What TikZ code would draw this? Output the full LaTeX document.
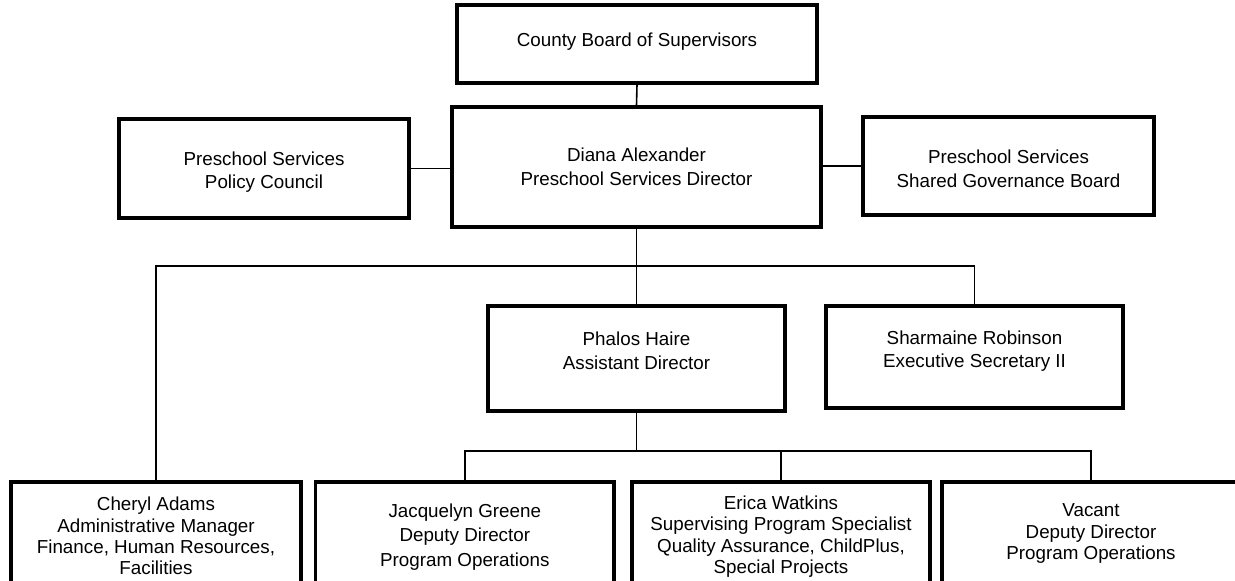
\documentclass[tikz,border=0pt]{standalone}
\usepackage{fontspec}
\setmainfont{Liberation Sans}
\begin{document}
\begin{tikzpicture}[x=1pt,y=-1pt,
  box/.style={draw=black, line width=3.2pt, rectangle, inner sep=0pt, fill=white},
  txt/.style={align=center, inner sep=0pt, font=\fontsize{18.8}{23.5}\selectfont},
  conn/.style={draw=black, line width=1.6pt}]
\useasboundingbox (0,0) rectangle (1235,581);
\clip (0,0) rectangle (1235,581);
% boxes
\node[box, minimum width=360pt, minimum height=78pt] (cb) at (637,44) {};
\node[box, minimum width=369pt, minimum height=120pt] (dir) at (636.5,167) {};
\node[box, minimum width=290pt, minimum height=99pt] (pc) at (264,168.5) {};
\node[box, minimum width=291pt, minimum height=98pt] (sg) at (1008.5,166) {};
\node[box, minimum width=297pt, minimum height=105pt] (ph) at (636.5,358.5) {};
\node[box, minimum width=297pt, minimum height=102pt] (sr) at (974.5,357) {};
\node[box, minimum width=290pt, minimum height=130pt] (ca) at (156,547) {};
\node[box, minimum width=298.5pt, minimum height=130pt] (jg) at (464.8,547) {};
\node[box, minimum width=298pt, minimum height=130pt] (ew) at (781,547) {};
\node[box, minimum width=298pt, minimum height=130pt] (va) at (1091,547) {};
% texts
\node[txt] (tcb) at (637,42) {County Board of Supervisors};
\node[txt] (tdir) at (636.5,167) {Diana Alexander\\Preschool Services Director};
\node[txt] (tpc) at (264,172) {Preschool Services\\Policy Council};
\node[txt] (tsg) at (1008.5,169) {Preschool Services\\Shared Governance Board};
\node[txt] (tph) at (636.5,351) {Phalos Haire\\Assistant Director};
\node[txt] (tsr) at (974.5,351) {Sharmaine Robinson\\Executive Secretary II};
\node[txt, font=\fontsize{18.8}{21.3}\selectfont] (tca) at (156,536) {Cheryl Adams\\Administrative Manager\\Finance, Human Resources,\\Facilities};
\node[txt, font=\fontsize{18.8}{24.6}\selectfont] (tjg) at (464.8,537) {Jacquelyn Greene\\Deputy Director\\Program Operations};
\node[txt, font=\fontsize{18.8}{21.3}\selectfont] (tew) at (781,536.5) {Erica Watkins\\Supervising Program Specialist\\Quality Assurance, ChildPlus,\\Special Projects};
\node[txt, font=\fontsize{18.8}{21.5}\selectfont] (tva) at (1091,533.6) {Vacant\\Deputy Director\\Program Operations};
% connectors
\coordinate (b1) at (636.5,266);
\coordinate (b2) at (636.5,451);
\draw[conn] (cb.south) -- (dir.north);
\draw[conn] (pc.east) -- (pc.east -| dir.west);
\draw[conn] (dir.east |- sg.west) -- (sg.west);
\draw[conn] (dir.south) -- (ph.north);
\draw[conn] (ca.north) |- (b1) -| (sr.north);
\draw[conn] (ph.south) -- (b2);
\draw[conn] (jg.north) |- (b2) -| (va.north);
\draw[conn] (ew.north) -- (ew.north |- b2);
\end{tikzpicture}
\end{document}
